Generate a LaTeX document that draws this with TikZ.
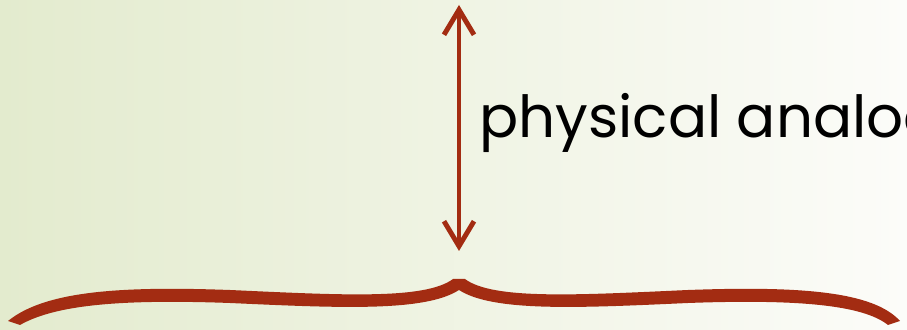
\documentclass[tikz,border=0pt]{standalone}
\usepackage{fontspec}
\setmainfont{Poppins}
\usetikzlibrary{arrows.meta}
\definecolor{rust}{RGB}{163,44,18}
\definecolor{bgleft}{RGB}{227,235,206}
\definecolor{bgright}{RGB}{252,252,249}
\begin{document}
\begin{tikzpicture}[x=0.02cm,y=-0.02cm]
  \useasboundingbox (0,0) rectangle (907,330);
  \clip (0,0) rectangle (907,330);
  \shade[left color=bgleft,right color=bgright] (0,0) rectangle (907,330);
  \coordinate (top) at (459,5);
  \coordinate (bot) at (459,251);
  \draw[rust,line width=2.8pt,{Straight Barb[length=5mm,width=6mm]}-{Straight Barb[length=5mm,width=6mm]}]
    (top) -- (bot);
  \node[anchor=base west,inner sep=0pt,font=\fontsize{33}{38}\selectfont] (label) at (479,138) {physical analogy};
  % brace, left half then right half
  \fill[rust] (8,321) .. controls (45,291) and (120,286) .. (230,290)
    .. controls (340,295) and (425,300) .. (453,279) -- (465,279)
    .. controls (493,300) and (578,295) .. (688,290)
    .. controls (798,286) and (873,291) .. (900,321) -- (888,325)
    .. controls (863,305) and (798,299) .. (688,303)
    .. controls (578,308) and (493,312) .. (459,290)
    .. controls (425,312) and (340,308) .. (230,303)
    .. controls (120,299) and (55,305) .. (20,325) -- cycle;
\end{tikzpicture}
\end{document}
